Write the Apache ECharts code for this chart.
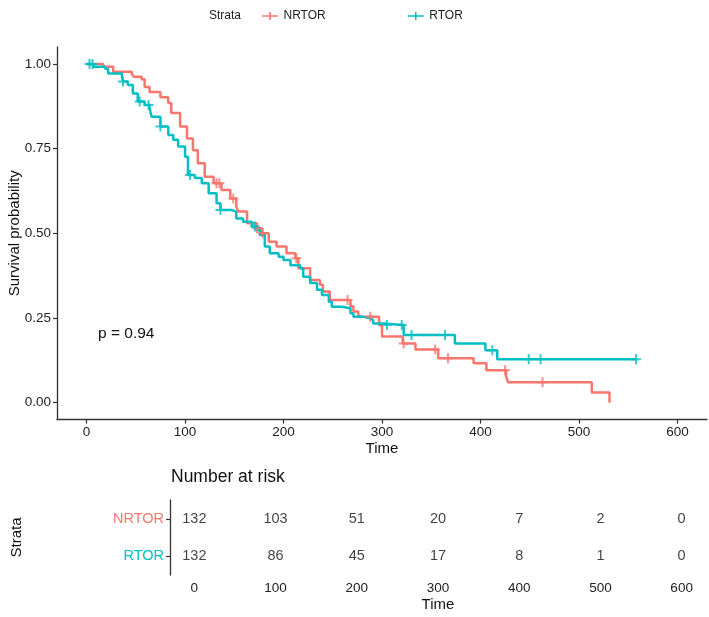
<!DOCTYPE html>
<html>
<head>
<meta charset="utf-8">
<script src="https://cdn.jsdelivr.net/npm/echarts@6/dist/echarts.min.js"></script>
<style>html,body{margin:0;padding:0;background:#fff;}#c{width:709px;height:617px;}</style>
</head>
<body>
<div id="c"></div>
<script>
// ---- data ----
const xTicks = [0, 100, 200, 300, 400, 500, 600];
const yTicks = [0, 0.25, 0.5, 0.75, 1];
const groups = ['NRTOR', 'RTOR'];
const colors = ['#F8766D', '#00BFC4'];

// Kaplan-Meier steps [time, survival after event]
const nrtorSteps = [
  [0,1.0],[17,0.992],[27,0.977],[46,0.970],[48,0.962],[56,0.955],[59,0.932],[64,0.917],
  [75,0.902],[83,0.885],[86,0.855],[95,0.815],[102,0.780],[108,0.745],[113,0.707],[120,0.667],
  [129,0.648],[137,0.628],[146,0.603],[152,0.579],[154,0.564],[163,0.530],[173,0.515],[178,0.500],
  [185,0.475],[193,0.461],[203,0.441],[212,0.426],[215,0.397],[227,0.362],[237,0.348],[240,0.328],
  [247,0.303],[268,0.285],[271,0.269],[276,0.254],[297,0.229],[300,0.195],[321,0.175],[334,0.157],
  [357,0.131],[393,0.116],[406,0.096],[426,0.078],[428,0.060],[513,0.030],[531,0.0]
];
const rtorSteps = [
  [0,1.0],[7,0.992],[19,0.985],[22,0.972],[36,0.962],[37,0.948],[42,0.938],[47,0.913],
  [52,0.889],[59,0.879],[64,0.869],[66,0.844],[75,0.815],[83,0.790],[88,0.776],[93,0.756],
  [100,0.726],[103,0.672],[110,0.663],[117,0.648],[124,0.618],[132,0.589],[136,0.569],[147,0.564],
  [152,0.544],[159,0.534],[168,0.520],[173,0.510],[176,0.495],[181,0.461],[186,0.441],[195,0.431],
  [200,0.421],[207,0.406],[217,0.397],[220,0.372],[227,0.353],[234,0.333],[239,0.318],[246,0.298],
  [249,0.283],[259,0.279],[268,0.264],[271,0.254],[280,0.249],[288,0.244],[291,0.234],[301,0.229],
  [322,0.200],[374,0.175],[405,0.155],[417,0.128],[558,0.128]
];
const nrtorCensor = [132, 135, 149, 173, 179, 213, 265, 288, 322, 354, 367, 425, 463];
const rtorCensor = [3, 6, 37, 54, 63, 75, 105, 136, 171, 305, 320, 330, 364, 412, 449, 461, 558];

const riskTimes = [0, 100, 200, 300, 400, 500, 600];
const nrtorRisk = [132, 103, 51, 20, 7, 2, 0];
const rtorRisk = [132, 86, 45, 17, 8, 1, 0];
const pText = 'p = 0.94';

// ---- build ----
function survAt(steps, t) {
  let s = steps[0][1];
  for (const [tt, v] of steps) { if (tt <= t) s = v; else break; }
  return s;
}
const FONT = 'Liberation Sans';
const plusPath = 'path://M4,0 L6,0 L6,10 L4,10 Z M0,4 L10,4 L10,6 L0,6 Z';
const legendIcon = 'path://M0,4 L20,4 L20,6 L0,6 Z M9,0 L11,0 L11,10 L9,10 Z';
const axisCol = '#333';

const stepsArr = [nrtorSteps, rtorSteps];
const censArr = [nrtorCensor, rtorCensor];
const riskArr = [nrtorRisk, rtorRisk];

const series = [];
groups.forEach((g, i) => {
  series.push({
    name: g, type: 'line', step: 'end', xAxisIndex: 0, yAxisIndex: 0,
    data: stepsArr[i], showSymbol: false, symbol: 'none',
    lineStyle: { color: colors[i], width: 2.5 }, itemStyle: { color: colors[i] },
    animation: false, z: 3
  });
  series.push({
    name: g, type: 'scatter', xAxisIndex: 0, yAxisIndex: 0,
    data: censArr[i].map(t => [t, survAt(stepsArr[i], t)]),
    symbol: plusPath, symbolSize: 10, itemStyle: { color: colors[i] },
    animation: false, z: 4
  });
  series.push({
    name: g + '_risk', type: 'scatter', xAxisIndex: 1, yAxisIndex: 1,
    data: riskTimes.map((t, k) => [t, g, riskArr[i][k]]),
    symbolSize: 1, itemStyle: { color: 'rgba(0,0,0,0)' },
    label: { show: true, position: 'inside', formatter: p => String(p.value[2]),
      color: '#111', fontSize: 14.5, fontFamily: FONT },
    animation: false, silent: true
  });
});

const chart = echarts.init(document.getElementById('c'), null, { renderer: 'canvas' });
chart.setOption({
  backgroundColor: '#fff',
  textStyle: { fontFamily: FONT },
  animation: false,
  legend: {
    data: groups.map((g, i) => ({ name: g, icon: legendIcon, itemStyle: { color: colors[i] } })),
    left: 262, top: 10, padding: 0, itemWidth: 17, itemHeight: 8, itemGap: 82,
    textStyle: { fontSize: 12, color: '#222', fontFamily: FONT }, selectedMode: false
  },
  graphic: [
    { type: 'text', left: 209, top: 10, style: { text: 'Strata', fontSize: 12, fill: '#222', fontFamily: FONT } },
    { type: 'text', left: 98, top: 326, style: { text: pText, fontSize: 15.5, fill: '#111', fontFamily: FONT } },
    { type: 'text', left: 171, top: 468, style: { text: 'Number at risk', fontSize: 17.5, fill: '#111', fontFamily: FONT } }
  ],
  grid: [
    { left: 57, right: 2, top: 47, height: 372.6, outerBoundsMode: 'none', containLabel: false },
    { left: 170, right: 3, top: 500, height: 75, outerBoundsMode: 'none', containLabel: false }
  ],
  xAxis: [
    { type: 'value', gridIndex: 0, min: -30, max: 630,
      axisLine: { onZero: false, lineStyle: { color: axisCol, width: 1.3 } },
      axisTick: { customValues: xTicks, length: 4, lineStyle: { color: axisCol, width: 1.2 } },
      axisLabel: { customValues: xTicks, margin: 6, fontSize: 13.5, color: '#222', fontFamily: FONT },
      splitLine: { show: false },
      name: 'Time', nameLocation: 'middle', nameGap: 22, nameMoveOverlap: false,
      nameTextStyle: { fontSize: 15, color: '#111', fontFamily: FONT } },
    { type: 'value', gridIndex: 1, min: -30, max: 630,
      axisLine: { onZero: false, lineStyle: { color: axisCol, width: 1.3 } },
      axisTick: { customValues: xTicks, length: 4, lineStyle: { color: axisCol, width: 1.2 } },
      axisLabel: { customValues: xTicks, margin: 6, fontSize: 13.5, color: '#222', fontFamily: FONT },
      splitLine: { show: false },
      name: 'Time', nameLocation: 'middle', nameGap: 22, nameMoveOverlap: false,
      nameTextStyle: { fontSize: 15, color: '#111', fontFamily: FONT } }
  ],
  yAxis: [
    { type: 'value', gridIndex: 0, min: -0.05, max: 1.05,
      axisLine: { show: true, onZero: false, lineStyle: { color: axisCol, width: 1.3 } },
      axisTick: { show: true, customValues: yTicks, length: 4, lineStyle: { color: axisCol, width: 1.2 } },
      axisLabel: { customValues: yTicks, margin: 6, fontSize: 13.5, color: '#222', fontFamily: FONT,
        formatter: v => v.toFixed(2) },
      splitLine: { show: false },
      name: 'Survival probability', nameLocation: 'middle', nameGap: 35, nameRotate: 90, nameMoveOverlap: false,
      nameTextStyle: { fontSize: 15, color: '#111', fontFamily: FONT } },
    { type: 'category', gridIndex: 1, data: groups.slice().reverse(),
      axisLine: { show: true, onZero: false, lineStyle: { color: axisCol, width: 1.3 } },
      axisTick: { show: true, alignWithLabel: true, length: 4, lineStyle: { color: axisCol, width: 1.2 } },
      axisLabel: { margin: 6, fontSize: 14.5, fontFamily: FONT,
        formatter: v => '{' + v + '|' + v + '}',
        rich: { NRTOR: { color: colors[0], fontSize: 14.5, fontFamily: FONT },
                RTOR: { color: colors[1], fontSize: 14.5, fontFamily: FONT } } },
      splitLine: { show: false },
      name: 'Strata', nameLocation: 'middle', nameGap: 146, nameRotate: 90, nameMoveOverlap: false,
      nameTextStyle: { fontSize: 15, color: '#111', fontFamily: FONT } }
  ],
  series: series
});
</script>
</body>
</html>
